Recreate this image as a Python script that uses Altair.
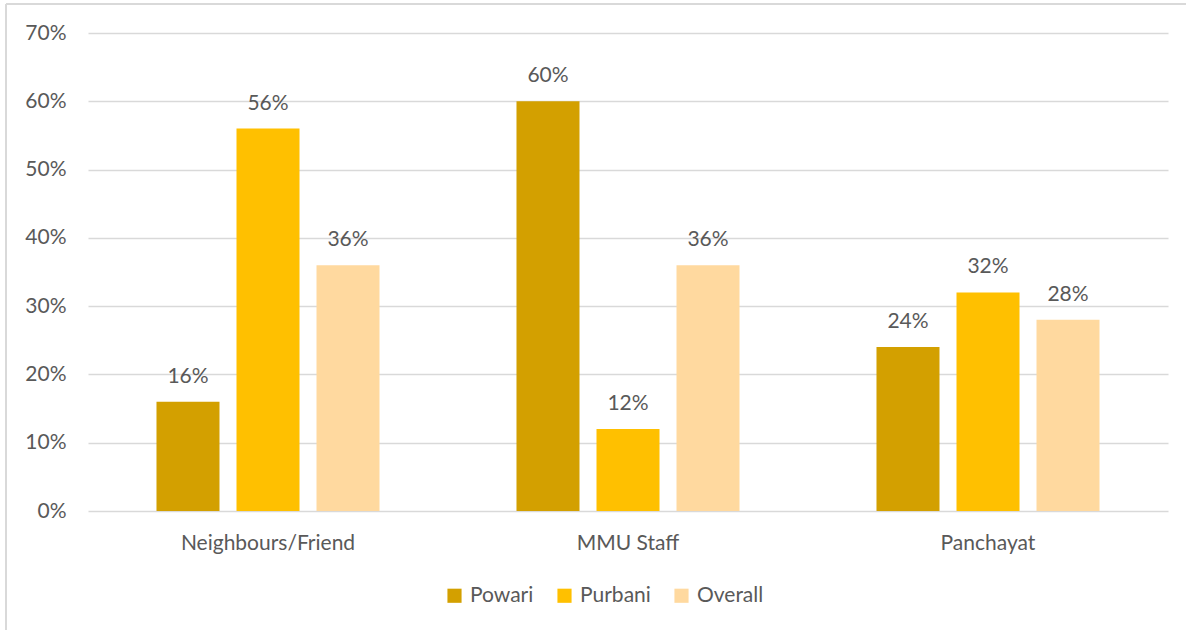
import altair as alt
import pandas as pd

categories = ["Neighbours/Friend", "MMU Staff", "Panchayat"]
series = ["Powari", "Purbani", "Overall"]
powari = [0.16, 0.60, 0.24]
purbani = [0.56, 0.12, 0.32]
overall = [0.36, 0.36, 0.28]
colors = ["#D3A000", "#FFC000", "#FFD99F"]
y_ticks = [0, 0.1, 0.2, 0.3, 0.4, 0.5, 0.6, 0.7]

rows = []
for i, c in enumerate(categories):
    for s, vals in zip(series, [powari, purbani, overall]):
        rows.append({"Category": c, "Series": s, "Value": vals[i]})
df = pd.DataFrame(rows)

FONT = "Lato"
GREY = "#595959"
FS = 21

x = alt.X("Category:N", sort=categories, title=None,
          scale=alt.Scale(paddingInner=0, paddingOuter=0),
          axis=alt.Axis(labelAngle=0, labelFontSize=FS, labelColor=GREY, labelFont=FONT,
                        labelPadding=21, ticks=False, domain=False, grid=False))
xo = alt.XOffset("Series:N", sort=series,
                 scale=alt.Scale(paddingInner=0.2125, paddingOuter=0.856))
y = alt.Y("Value:Q", title=None,
          scale=alt.Scale(domain=[0, 0.7]),
          axis=alt.Axis(values=y_ticks, format=".0%", labelFontSize=FS, labelColor=GREY,
                        labelFont=FONT, labelPadding=22, ticks=False, domain=False,
                        gridColor="#D9D9D9", gridWidth=1.5))

bars = alt.Chart(df).mark_bar().encode(
    x=x, xOffset=xo, y=y,
    color=alt.Color("Series:N", sort=series,
                    scale=alt.Scale(domain=series, range=colors),
                    legend=alt.Legend(title=None, orient="none", direction="horizontal",
                                      legendX=356, legendY=552, symbolType="square",
                                      symbolSize=200, symbolStrokeWidth=0,
                                      labelFontSize=FS, labelColor=GREY, labelFont=FONT,
                                      columnPadding=20, labelOffset=5, symbolOffset=0)),
)

labels = alt.Chart(df).mark_text(baseline="alphabetic", dy=-19, fontSize=FS, color=GREY, font=FONT).encode(
    x=x, xOffset=xo, y=y, text=alt.Text("Value:Q", format=".0%"),
)

frame_left = alt.Chart(df).mark_rule(color="#D9D9D9", strokeWidth=1.5).encode(
    x=alt.value(-82), y=alt.value(-29), y2=alt.value(650))
frame_top = alt.Chart(df).mark_rule(color="#D9D9D9", strokeWidth=1.5).encode(
    x=alt.value(-82), x2=alt.value(1120), y=alt.value(-29))

chart = alt.layer(bars, labels, frame_left, frame_top).properties(
    width=1080, height=478,
    autosize=alt.AutoSizeParams(type="none"),
    padding={"left": 88, "top": 33, "right": 18, "bottom": 119},
).configure(background="white").configure_view(stroke="transparent", strokeWidth=0)

chart.save("out.html", embed_options={"renderer": "svg", "actions": False})
